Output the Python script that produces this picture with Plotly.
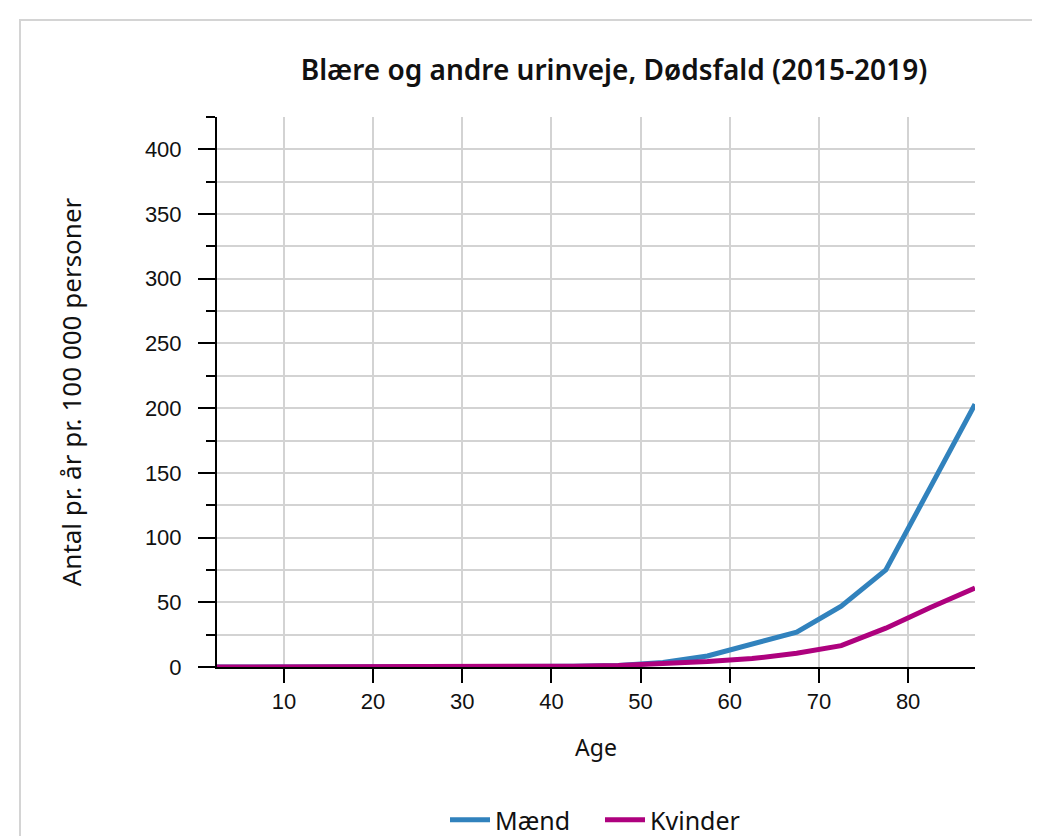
import plotly.graph_objects as go

ages = [2.5, 7.5, 12.5, 17.5, 22.5, 27.5, 32.5, 37.5, 42.5, 47.5,
        52.5, 57.5, 62.5, 67.5, 72.5, 77.5, 82.5, 87.5]
maend = [0, 0, 0, 0, 0, 0, 0.1, 0.2, 0.5, 1.2,
         3.5, 8.5, 17.5, 27, 47, 75, 139, 203]
kvinder = [0, 0, 0, 0, 0, 0, 0.1, 0.3, 0.6, 1.2,
           2.3, 4.2, 6.5, 10.6, 16.5, 30, 46, 61]

series_names = ["Mænd", "Kvinder"]
series_colors = ["#3182bd", "#ae017e"]

title_text = "Blære og andre urinveje, Dødsfald (2015-2019)"
x_title = "Age"
y_title = "Antal pr. år pr. 100 000 personer"

x_ticks = [10, 20, 30, 40, 50, 60, 70, 80]
y_ticks = [0, 50, 100, 150, 200, 250, 300, 350, 400]
y_minor = [25, 75, 125, 175, 225, 275, 325, 375, 425]

W, H = 1040, 836
L, R, T, B = 209, 73, 109, 177

fig = go.Figure()
for name, vals, col in zip(series_names, [maend, kvinder], series_colors):
    fig.add_trace(go.Scatter(x=ages, y=vals, mode="lines", name=name,
                             line=dict(color=col, width=5)))

pw = W - L - R
ph = H - T - B
# container border (decoration)
fig.add_shape(type="rect", xref="paper", yref="paper",
              x0=(12 - L) / pw, x1=(W + 20 - L) / pw,
              y0=(H - B - (H + 20)) / ph, y1=(H - B - 12) / ph,
              line=dict(color="#d4d4d4", width=2), fillcolor="rgba(0,0,0,0)",
              layer="below")

grid = "#d3d3d3"
txt = "#111111"
tickfont = dict(family="Liberation Sans, Arial", size=22, color=txt)
fig.update_layout(
    width=W, height=H,
    margin=dict(l=L, r=R, t=T, b=B, autoexpand=False),
    paper_bgcolor="white", plot_bgcolor="white",
    title=dict(text=title_text, x=606 / W, xref="container", xanchor="center",
               y=1 - 62 / H, yref="container", yanchor="middle",
               font=dict(family="Noto Sans", size=28, color=txt, weight=600)),
    showlegend=True,
    legend=dict(orientation="h", x=0.5 + 4 / pw, xanchor="center", y=(H - B - 812) / ph,
                yanchor="middle", font=dict(family="Noto Sans", size=25, color=txt),
                itemwidth=40, traceorder="normal",
                entrywidth=100, entrywidthmode="pixels"),
    xaxis=dict(range=[2.5, 87.5], tickvals=x_ticks,
               showgrid=True, gridcolor=grid, gridwidth=1.5,
               showline=True, linecolor="black", linewidth=2,
               ticks="outside", ticklen=14, tickwidth=2, tickcolor="black",
               tickfont=tickfont, zeroline=False,
               title=dict(text=x_title, standoff=26,
                          font=dict(family="Noto Sans", size=23, color=txt))),
    yaxis=dict(range=[0, 425], tickvals=y_ticks,
               showgrid=True, gridcolor=grid, gridwidth=1.5,
               showline=True, linecolor="black", linewidth=2,
               ticks="outside", ticklen=17, tickwidth=2, tickcolor="black",
               tickfont=tickfont, zeroline=False, ticklabelstandoff=12,
               minor=dict(tickvals=y_minor,
                          ticks="outside", ticklen=9, tickwidth=2, tickcolor="black",
                          showgrid=True, gridcolor=grid, gridwidth=1.5),
               title=dict(text=y_title, standoff=56,
                          font=dict(family="Noto Sans", size=26, color=txt))),
)

fig.write_html("out.html")
